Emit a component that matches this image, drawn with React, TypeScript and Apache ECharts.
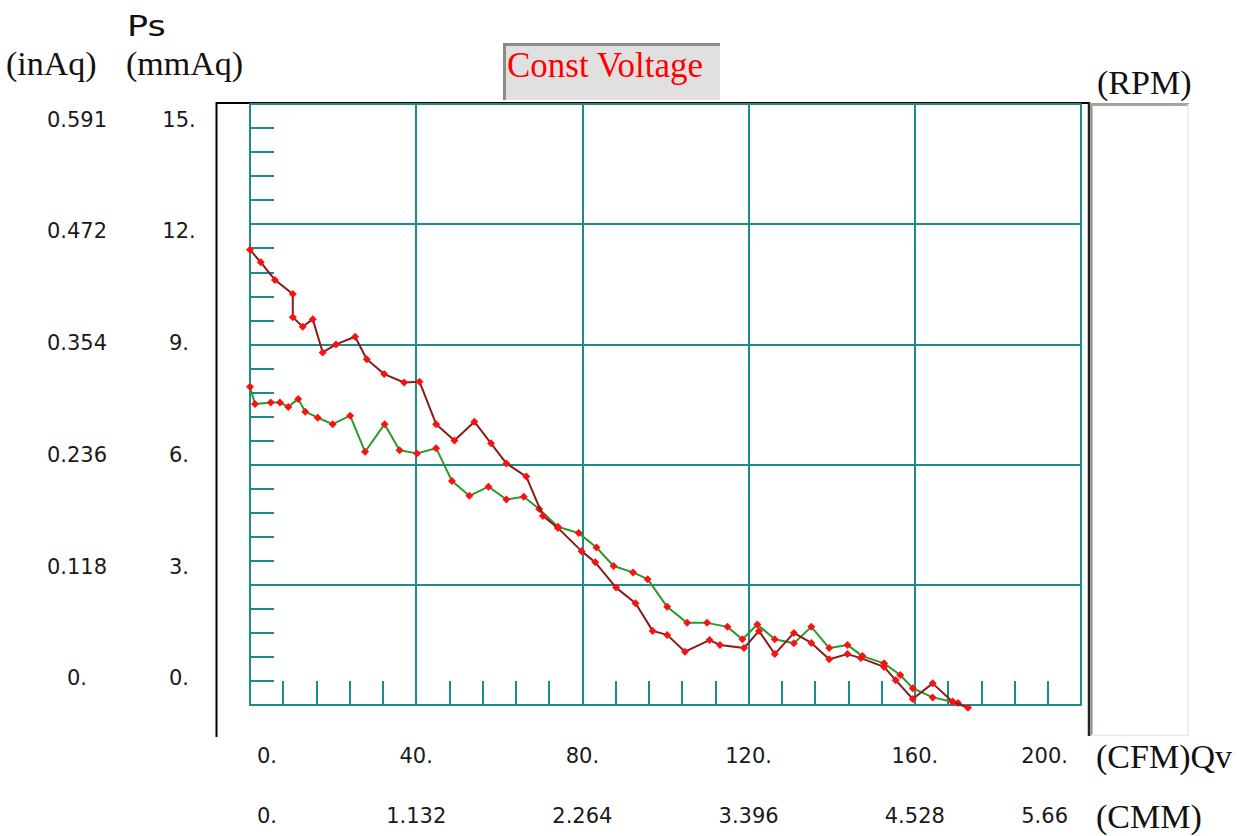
import React, { useEffect, useRef } from "react";
import * as echarts from "echarts";

// Flow (CFM) and static pressure (mmAq) for the two curves
const redQ = [0, 2.6, 6, 10.3, 10.3, 12.7, 15.1, 17.5, 20.7, 25.3, 28.1, 32.3, 37.1, 40.8, 44.8, 49.2, 54, 58, 61.7, 66.5, 70.5, 74.1, 79.8, 83.1, 88.1, 92.8, 96.9, 100.4, 104.7, 110.6, 113.1, 118.9, 122.5, 126.3, 130.9, 135.1, 139.4, 143.8, 147, 152.6, 155.4, 159.5, 164.3, 169.1, 172.8];
const redPs = [11.36, 11.05, 10.61, 10.26, 9.68, 9.44, 9.63, 8.8, 9.0, 9.19, 8.63, 8.26, 8.05, 8.07, 7.01, 6.6, 7.07, 6.53, 6.03, 5.7, 4.72, 4.42, 3.84, 3.56, 2.93, 2.54, 1.85, 1.75, 1.33, 1.62, 1.5, 1.42, 1.85, 1.27, 1.8, 1.55, 1.14, 1.27, 1.17, 0.95, 0.62, 0.15, 0.54, 0.08, -0.07];
const greenQ = [0, 1.2, 5, 7.2, 9.2, 11.6, 13.3, 16.3, 19.9, 24.1, 27.7, 32.4, 36, 40.2, 44.8, 48.6, 52.8, 57.4, 61.7, 65.9, 69.6, 74.1, 79.1, 83.4, 87.5, 92.2, 95.7, 100.4, 105.2, 110, 114.9, 118.5, 122.1, 126.3, 130.9, 135.1, 139.4, 143.8, 147.4, 152.6, 156.5, 159.5, 164.3, 169.1, 170.4];
const greenPs = [7.94, 7.51, 7.55, 7.55, 7.44, 7.64, 7.32, 7.17, 7.01, 7.22, 6.32, 7.01, 6.36, 6.28, 6.41, 5.59, 5.22, 5.45, 5.13, 5.2, 4.89, 4.45, 4.29, 3.93, 3.47, 3.31, 3.14, 2.45, 2.05, 2.05, 1.95, 1.64, 2.01, 1.64, 1.54, 1.95, 1.42, 1.5, 1.22, 1.04, 0.75, 0.42, 0.19, 0.08, 0.05];

// Tick labels
const cfmTicks = [0, 40, 80, 120, 160, 200];
const cfmLabels = ["0.", "40.", "80.", "120.", "160.", "200."];
const cmmLabels = ["0.", "1.132", "2.264", "3.396", "4.528", "5.66"];
const mmAqTicks = [0, 3, 6, 9, 12, 15];
const mmAqLabels = ["0.", "3.", "6.", "9.", "12.", "15."];
const inAqLabels = ["0.", "0.118", "0.236", "0.354", "0.472", "0.591"];

const TEAL = "#1b8b8b";
const SANS = "DejaVu Sans";
const SERIF = "Liberation Serif";

export default function App() {
  const ref = useRef<HTMLDivElement>(null);
  useEffect(() => {
    if (!ref.current) return;
    const chart = echarts.init(ref.current, null, { renderer: "svg" });
    const nearest = (ticks: number[], v: number) => {
      let best = 0;
      for (let i = 0; i < ticks.length; i++) if (Math.abs(ticks[i] - v) < Math.abs(ticks[best] - v)) best = i;
      return best;
    };
    const pick = (ticks: number[], labels: string[]) => (v: number) => labels[nearest(ticks, v)];
    const pickX = (labels: string[]) => (v: number) => {
      const i = nearest(cfmTicks, v);
      if (i === 0) return "{first|" + labels[i] + "}";
      if (i === cfmTicks.length - 1) return "{last|" + labels[i] + "}";
      return labels[i];
    };
    const tickFont = { fontFamily: SANS, fontSize: 21, color: "#1a1a1a" };
    const xRich = {
      first: { ...tickFont, padding: [0, 0, 0, 7] },
      last: { ...tickFont, padding: [0, 13, 0, 0] },
    };
    const serifText = (text: string, x: number, y: number, extra: any = {}) => ({
      type: "text",
      x,
      y,
      silent: true,
      style: { text, fontFamily: SERIF, fontSize: 34, fill: "#111", verticalAlign: "middle", align: "left", ...extra },
    });
    chart.setOption({
      animation: false,
      backgroundColor: "#ffffff",
      grid: { left: 250, top: 104, right: 170, bottom: 131, containLabel: false },
      xAxis: [
        {
          type: "value",
          min: 0,
          max: 200,
          interval: 40,
          position: "bottom",
          axisLine: { show: true, onZero: false, lineStyle: { color: TEAL, width: 2 } },
          axisTick: { show: false, inside: true },
          minorTick: { show: true, splitNumber: 5, length: 24, lineStyle: { color: TEAL, width: 2 } },
          splitLine: { show: true, lineStyle: { color: TEAL, width: 2 } },
          axisLabel: {
            ...tickFont,
            margin: 40,
            alignMinLabel: "left",
            alignMaxLabel: "right",
            rich: xRich,
            formatter: pickX(cfmLabels),
          },
        },
        {
          type: "value",
          min: 0,
          max: 200,
          interval: 40,
          position: "bottom",
          axisLine: { show: false },
          axisTick: { show: false },
          splitLine: { show: false },
          axisLabel: {
            ...tickFont,
            margin: 100,
            alignMinLabel: "left",
            alignMaxLabel: "right",
            rich: xRich,
            formatter: pickX(cmmLabels),
          },
        },
      ],
      yAxis: [
        {
          type: "value",
          min: 0,
          max: 15,
          interval: 3,
          position: "left",
          axisLine: { show: true, onZero: false, lineStyle: { color: TEAL, width: 2 } },
          axisTick: { show: false, inside: true },
          minorTick: { show: true, splitNumber: 5, length: 24, lineStyle: { color: TEAL, width: 2 } },
          splitLine: { show: true, lineStyle: { color: TEAL, width: 2 } },
          axisLabel: { show: false },
        },
        {
          type: "value",
          min: -0.714,
          max: 15.416,
          position: "left",
          axisLine: { show: false },
          axisTick: { show: false },
          splitLine: { show: false },
          axisLabel: {
            ...tickFont,
            customValues: mmAqTicks,
            align: "center",
            margin: 71,
            formatter: pick(mmAqTicks, mmAqLabels),
          },
        },
        {
          type: "value",
          min: -0.714,
          max: 15.416,
          position: "left",
          axisLine: { show: false },
          axisTick: { show: false },
          splitLine: { show: false },
          axisLabel: {
            ...tickFont,
            customValues: mmAqTicks,
            align: "center",
            margin: 173,
            formatter: pick(mmAqTicks, inAqLabels),
          },
        },
      ],
      series: [
        {
          type: "line",
          xAxisIndex: 0,
          yAxisIndex: 0,
          clip: false,
          data: greenQ.map((q, i) => [q, greenPs[i]]),
          lineStyle: { color: "#2a9a2a", width: 2 },
          symbol: "diamond",
          symbolSize: 8,
          itemStyle: { color: "#ff1010" },
          z: 3,
        },
        {
          type: "line",
          xAxisIndex: 0,
          yAxisIndex: 0,
          clip: false,
          data: redQ.map((q, i) => [q, redPs[i]]),
          lineStyle: { color: "#8a1c1c", width: 2 },
          symbol: "diamond",
          symbolSize: 8,
          itemStyle: { color: "#ff1010" },
          z: 4,
        },
      ],
      graphic: [
        // black frame lines
        { type: "line", silent: true, shape: { x1: 216, y1: 103, x2: 1090, y2: 103 }, style: { stroke: "#000", lineWidth: 2 } },
        { type: "line", silent: true, shape: { x1: 216.5, y1: 102, x2: 216.5, y2: 737 }, style: { stroke: "#000", lineWidth: 2 } },
        // RPM panel
        { type: "rect", silent: true, shape: { x: 1089, y: 103, width: 100, height: 633 }, style: { fill: "#ffffff" } },
        { type: "line", silent: true, shape: { x1: 1089, y1: 102, x2: 1089, y2: 736 }, style: { stroke: "#222", lineWidth: 2.5 } },
        { type: "line", silent: true, shape: { x1: 1091.5, y1: 104, x2: 1091.5, y2: 736 }, style: { stroke: "#8e8c82", lineWidth: 2 } },
        { type: "line", silent: true, shape: { x1: 1091, y1: 104.5, x2: 1189, y2: 104.5 }, style: { stroke: "#a6a49a", lineWidth: 3 } },
        { type: "line", silent: true, shape: { x1: 1188, y1: 104, x2: 1188, y2: 736 }, style: { stroke: "#eeeadc", lineWidth: 1.5 } },
        { type: "line", silent: true, shape: { x1: 1091, y1: 735.5, x2: 1189, y2: 735.5 }, style: { stroke: "#eeeadc", lineWidth: 1.5 } },
        // Const Voltage box
        { type: "rect", silent: true, shape: { x: 503, y: 43, width: 217, height: 57 }, style: { fill: "#e0e0e0" } },
        { type: "line", silent: true, shape: { x1: 503, y1: 44.5, x2: 720, y2: 44.5 }, style: { stroke: "#8e8c82", lineWidth: 3 } },
        { type: "line", silent: true, shape: { x1: 504.5, y1: 43, x2: 504.5, y2: 100 }, style: { stroke: "#8e8c82", lineWidth: 3 } },
        serifText("Const Voltage", 507, 65, { fill: "#ff0000", fontSize: 35 }),
        // axis titles
        { type: "text", x: 127, y: 26, scaleX: 1.25, silent: true, style: { text: "Ps", fontFamily: SANS, fontSize: 28, fill: "#111", verticalAlign: "middle" } },
        serifText("(inAq)", 6, 63),
        serifText("(mmAq)", 126, 63),
        serifText("(RPM)", 1097, 82),
        serifText("(CFM)Qv", 1096, 756),
        serifText("(CMM)", 1096, 816),
      ],
    });
    return () => chart.dispose();
  }, []);
  return <div ref={ref} style={{ position: "fixed", left: 0, top: 0, width: 1251, height: 836 }} />;
}
